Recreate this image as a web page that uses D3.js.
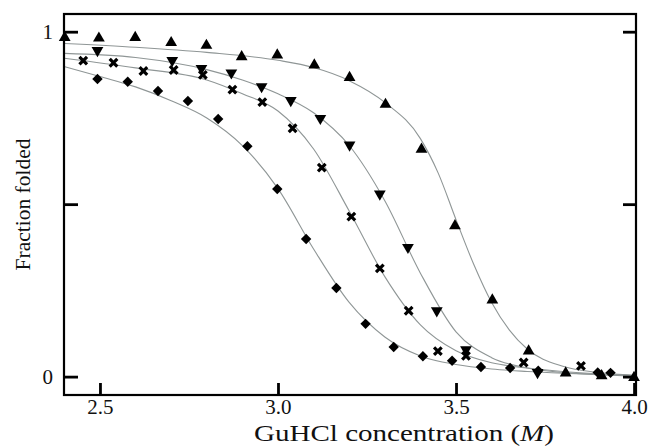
<!DOCTYPE html>
<html>
<head>
<meta charset="utf-8">
<script src="https://cdn.jsdelivr.net/npm/d3@7"></script>
<style>
  body { margin: 0; background: #fff; }
  text { font-family: "Liberation Serif", "Times New Roman", serif; fill: #111; }
</style>
</head>
<body>
<svg id="chart"></svg>
<script>
// measured points [GuHCl M, fraction folded]
var triUp = [[2.401,0.986],[2.497,0.984],[2.599,0.986],[2.700,0.971],[2.799,0.963],[2.898,0.930],
  [2.998,0.935],[3.102,0.906],[3.201,0.870],[3.302,0.792],[3.403,0.662],[3.497,0.440],
  [3.602,0.225],[3.704,0.077],[3.808,0.013],[3.909,0.005],[4.0,0.0]];
var triDown = [[2.493,0.943],[2.703,0.914],[2.785,0.891],[2.869,0.878],[2.954,0.838],[3.036,0.798],
  [3.119,0.746],[3.201,0.669],[3.286,0.527],[3.365,0.372],[3.446,0.188],[3.528,0.075],[3.729,0.009]];
var crosses = [[2.453,0.916],[2.538,0.910],[2.622,0.886],[2.707,0.889],[2.789,0.875],[2.872,0.832],
  [2.956,0.796],[3.041,0.720],[3.123,0.606],[3.206,0.464],[3.286,0.314],[3.367,0.191],
  [3.449,0.074],[3.528,0.060],[3.690,0.041],[3.851,0.031]];
var diamonds = [[2.493,0.863],[2.578,0.855],[2.663,0.828],[2.747,0.799],[2.832,0.747],[2.914,0.668],
  [2.998,0.544],[3.079,0.399],[3.164,0.257],[3.246,0.153],[3.325,0.086],[3.407,0.059],
  [3.489,0.046],[3.570,0.028],[3.652,0.025],[3.731,0.017],[3.898,0.012],[3.934,0.011]];

// fitted curves
var fitUp = [[2.4,0.966],[2.6,0.955],[2.8,0.94],[3.0,0.917],[3.1,0.896],[3.2,0.858],[3.3,0.795],
  [3.4,0.69],[3.45,0.59],[3.5,0.455],[3.55,0.325],[3.6,0.215],[3.65,0.135],[3.7,0.08],
  [3.8,0.03],[3.9,0.012],[4.0,0.004]];
var fitDown = [[2.4,0.937],[2.6,0.925],[2.8,0.89],[2.9,0.86],[3.0,0.82],[3.1,0.765],[3.2,0.67],
  [3.3,0.51],[3.4,0.3],[3.5,0.13],[3.6,0.055],[3.7,0.025],[3.8,0.012],[4.0,0.002]];
var fitCross = [[2.4,0.923],[2.6,0.895],[2.8,0.86],[2.9,0.82],[3.0,0.77],[3.1,0.66],[3.2,0.48],
  [3.3,0.29],[3.4,0.15],[3.5,0.075],[3.6,0.04],[3.7,0.025],[3.8,0.015],[4.0,0.003]];
var fitDiamond = [[2.4,0.899],[2.5,0.87],[2.6,0.84],[2.7,0.8],[2.8,0.75],[2.9,0.67],[3.0,0.545],
  [3.1,0.37],[3.2,0.215],[3.3,0.115],[3.4,0.06],[3.5,0.035],[3.6,0.022],[3.7,0.015],
  [3.8,0.01],[4.0,0.003]];

var xTicks = [2.5, 3.0, 3.5, 4.0];
var yTicks = [0, 0.5, 1];
var yLabels = {0: "0", 1: "1"};

var width = 650, height = 448;
var plotL = 64, plotR = 636, plotT = 14, plotB = 395;

var svg = d3.select("#chart").attr("width", width).attr("height", height);

var x = d3.scaleLinear().domain([2.399, 4.0055]).range([plotL, plotR]);
var y = d3.scaleLinear().domain([-0.0533, 1.0513]).range([plotB, plotT]);

// fit lines
var line = d3.line()
    .x(function(d) { return x(d[0]); })
    .y(function(d) { return y(d[1]); })
    .curve(d3.curveMonotoneX);

[fitUp, fitDown, fitCross, fitDiamond].forEach(function(f) {
  svg.append("path")
      .datum(f)
      .attr("d", line)
      .attr("fill", "none")
      .attr("stroke", "#8f9696")
      .attr("stroke-width", 1.1);
});

// markers
var tri = d3.symbol().type(d3.symbolTriangle).size(60);
var sq = d3.symbol().type(d3.symbolSquare).size(54);

svg.append("g").selectAll("path").data(triUp).enter().append("path")
    .attr("d", tri)
    .attr("transform", function(d) { return "translate(" + x(d[0]) + "," + (y(d[1]) + 1) + ")"; })
    .attr("fill", "#000");

svg.append("g").selectAll("path").data(triDown).enter().append("path")
    .attr("d", tri)
    .attr("transform", function(d) { return "translate(" + x(d[0]) + "," + (y(d[1]) - 1) + ") rotate(180)"; })
    .attr("fill", "#000");

svg.append("g").selectAll("path").data(diamonds).enter().append("path")
    .attr("d", sq)
    .attr("transform", function(d) { return "translate(" + x(d[0]) + "," + y(d[1]) + ") rotate(45)"; })
    .attr("fill", "#000");

svg.append("g").selectAll("path").data(crosses).enter().append("path")
    .attr("d", "M-3.8,-3.8L3.8,3.8M-3.8,3.8L3.8,-3.8")
    .attr("transform", function(d) { return "translate(" + x(d[0]) + "," + y(d[1]) + ")"; })
    .attr("stroke", "#000")
    .attr("stroke-width", 3.2)
    .attr("fill", "none");

// frame
svg.append("rect")
    .attr("x", plotL).attr("y", plotT)
    .attr("width", plotR - plotL).attr("height", plotB - plotT)
    .attr("fill", "none")
    .attr("stroke", "#000")
    .attr("stroke-width", 2.2);

// axes, ticks pointing inward
var xAxis = svg.append("g")
    .attr("transform", "translate(0," + plotB + ")")
    .call(d3.axisBottom(x).tickValues(xTicks).tickFormat(d3.format(".1f")).tickSizeInner(-12).tickSizeOuter(0).tickPadding(4));
var yAxis = svg.append("g")
    .attr("transform", "translate(" + plotL + ",0)")
    .call(d3.axisLeft(y).tickValues(yTicks).tickFormat(function(d) { return yLabels[d] || ""; })
      .tickSizeInner(-14).tickSizeOuter(0).tickPadding(11));
var yAxisR = svg.append("g")
    .attr("transform", "translate(" + plotR + ",0)")
    .call(d3.axisRight(y).tickValues(yTicks).tickFormat("").tickSizeInner(-13).tickSizeOuter(0));

[xAxis, yAxis, yAxisR].forEach(function(a) {
  a.select(".domain").remove();
  a.selectAll("line").attr("stroke", "#000").attr("stroke-width", 2.8);
  a.selectAll("text").attr("font-size", 21).attr("font-family", "Liberation Serif").attr("fill", "#222");
});
yAxis.selectAll("text").attr("dy", "0.32em");

// axis titles
var xt = svg.append("text")
    .attr("x", (253 + 555) / 2)
    .attr("y", 441)
    .attr("text-anchor", "middle")
    .attr("font-size", 23)
    .attr("textLength", 300)
    .attr("lengthAdjust", "spacingAndGlyphs");
xt.append("tspan").text("GuHCl concentration (");
xt.append("tspan").attr("font-style", "italic").text("M");
xt.append("tspan").text(")");

svg.append("text")
    .attr("transform", "translate(30," + (plotT + plotB) / 2 + ") rotate(-90)")
    .attr("text-anchor", "middle")
    .attr("font-size", 21.5)
    .text("Fraction folded");
</script>
</body>
</html>
